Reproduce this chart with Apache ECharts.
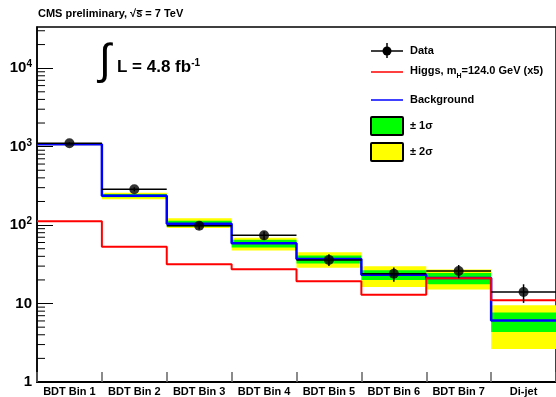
<!DOCTYPE html>
<html>
<head>
<meta charset="utf-8">
<script src="https://cdn.jsdelivr.net/npm/echarts@6/dist/echarts.min.js"></script>
<style>
  html, body { margin: 0; padding: 0; background: #fff; }
  #chart { width: 556px; height: 397px; }
</style>
</head>
<body>
<div id="chart"></div>
<script>
// Bin names along the x axis
const categories = ['BDT Bin 1', 'BDT Bin 2', 'BDT Bin 3', 'BDT Bin 4',
                    'BDT Bin 5', 'BDT Bin 6', 'BDT Bin 7', 'Di-jet'];

// Observed events and their error bars
const dataValues = [1105, 286, 98, 74, 36, 24, 26, 14];
const dataLow    = [1072, 269, 88, 65, 30, 19, 21, 10.2];
const dataHigh   = [1138, 303, 108, 83, 42.6, 28.8, 31, 17.6];

// Expected signal (x5) and background
const higgs      = [112, 52.8, 31.8, 27.4, 19.3, 12.9, 21.0, 11.0];
const background = [1073, 237, 104, 58.5, 37, 23.2, 21.2, 6.1];

// Background uncertainty bands
const sigma1Low  = [1062, 226, 96, 52, 32.4, 19.9, 17.6, 4.34];
const sigma1High = [1085, 249, 113.5, 65, 41, 26.6, 24.6, 7.7];
const sigma2Low  = [1045, 213, 92, 47.5, 28.5, 16.2, 15.1, 2.63];
const sigma2High = [1100, 259, 122, 69, 45.2, 29.9, 27.2, 9.5];

// Y axis range
const yMin = 1;
const yMax = 33500;

const FONT = '"Liberation Sans", Arial, Helvetica, sans-serif';

function steps(vals) {
  const pts = [];
  vals.forEach((v, i) => { pts.push([i, v]); pts.push([i + 1, v]); });
  return pts;
}

function bandSeries(lows, highs, color, z) {
  return {
    type: 'custom',
    xAxisIndex: 0,
    z: z,
    silent: true,
    data: lows.map((lo, i) => [i, lo, highs[i]]),
    encode: { x: 0, y: [1, 2] },
    renderItem: function (params, api) {
      const i = api.value(0);
      const p1 = api.coord([i, api.value(2)]);
      const p2 = api.coord([i + 1, api.value(1)]);
      return {
        type: 'rect',
        shape: { x: p1[0], y: p1[1], width: p2[0] - p1[0], height: p2[1] - p1[1] },
        style: { fill: color }
      };
    }
  };
}

// minor tick values on the log axis (2..9 of every decade)
const minorTickValues = [];
for (let d = 1; d <= 10000; d *= 10) {
  for (let m = 2; m <= 9; m++) {
    if (m * d < yMax) minorTickValues.push(m * d);
  }
}

const chart = echarts.init(document.getElementById('chart'), null, { renderer: 'canvas' });

const option = {
  animation: false,
  backgroundColor: '#ffffff',
  textStyle: { fontFamily: FONT },
  grid: {
    left: 37, top: 27, width: 523, height: 355,
    show: true, borderColor: '#000', borderWidth: 1.5, backgroundColor: 'transparent'
  },
  xAxis: [
    {
      type: 'value', min: 0, max: 8, show: false
    },
    {
      type: 'category',
      data: categories,
      boundaryGap: true,
      position: 'bottom',
      axisLine: { show: true, lineStyle: { color: '#000', width: 2 } },
      axisTick: { show: true, inside: true, length: 10, lineStyle: { color: '#666', width: 1.5 } },
      axisLabel: {
        margin: 4, color: '#000', fontSize: 11, fontWeight: 'bold', fontFamily: FONT,
        interval: 0
      },
      splitLine: { show: false }
    }
  ],
  yAxis: {
    type: 'log',
    logBase: 10,
    min: yMin,
    max: yMax,
    axisLine: { show: true, lineStyle: { color: '#000', width: 1.5 } },
    axisTick: { show: true, inside: true, length: 16, lineStyle: { color: '#000', width: 1 } },
    splitLine: { show: false },
    axisLabel: {
      margin: 5,
      showMaxLabel: false,
      color: '#000',
      fontFamily: FONT,
      formatter: function (v) {
        const e = Math.round(Math.log10(v));
        if (Math.abs(Math.pow(10, e) - v) > 1e-6 * v) return '';
        if (e === 0) return '{b|1}';
        if (e === 1) return '{b|10}';
        return '{b|10}{s|' + e + '}';
      },
      rich: {
        b: { fontSize: 15, fontWeight: 'bold', fontFamily: FONT, color: '#000' },
        s: { fontSize: 10, fontWeight: 'bold', fontFamily: FONT, color: '#000',
             verticalAlign: 'bottom', padding: [0, 0, 7, 0] }
      }
    }
  },
  series: [
    bandSeries(sigma2Low, sigma2High, '#ffff00', 1),
    bandSeries(sigma1Low, sigma1High, '#00ff00', 2),
    {
      name: 'Background', type: 'line', xAxisIndex: 0, z: 3, silent: true,
      data: steps(background), symbol: 'none',
      lineStyle: { color: '#0000ff', width: 2.5 }
    },
    {
      name: 'Higgs', type: 'line', xAxisIndex: 0, z: 4, silent: true,
      data: steps(higgs), symbol: 'none',
      lineStyle: { color: '#ff0000', width: 2 }
    },
    {
      // data error bars: full-bin horizontal bar plus vertical error
      type: 'custom', xAxisIndex: 0, z: 5, silent: true,
      data: dataValues.map((v, i) => [i, v, dataLow[i], dataHigh[i]]),
      encode: { x: 0, y: [1, 2, 3] },
      renderItem: function (params, api) {
        const i = api.value(0);
        const left = api.coord([i, api.value(1)]);
        const right = api.coord([i + 1, api.value(1)]);
        const lo = api.coord([i + 0.5, api.value(2)]);
        const hi = api.coord([i + 0.5, api.value(3)]);
        const st = { stroke: '#000', lineWidth: 1.5 };
        return {
          type: 'group',
          children: [
            { type: 'line', shape: { x1: left[0], y1: left[1], x2: right[0], y2: right[1] }, style: st },
            { type: 'line', shape: { x1: lo[0], y1: lo[1], x2: hi[0], y2: hi[1] }, style: st }
          ]
        };
      }
    },
    {
      name: 'Data', type: 'scatter', xAxisIndex: 0, z: 6, silent: true,
      data: dataValues.map((v, i) => [i + 0.5, v]),
      symbol: 'circle', symbolSize: 10,
      itemStyle: { color: '#000' }
    },
    {
      // minor log ticks on the y axis
      type: 'custom', xAxisIndex: 0, z: 7, silent: true, clip: false,
      data: minorTickValues.map(v => [0, v]),
      encode: { x: 0, y: 1 },
      renderItem: function (params, api) {
        const p = api.coord([0, api.value(1)]);
        return {
          type: 'line',
          shape: { x1: p[0], y1: p[1], x2: p[0] + 8, y2: p[1] },
          style: { stroke: '#000', lineWidth: 1 }
        };
      }
    }
  ],
  graphic: [
    // header
    { type: 'text', left: 38, top: 8,
      style: { text: 'CMS preliminary, √s = 7 TeV', font: 'bold 11px ' + FONT, fill: '#000' } },
    { type: 'line', shape: { x1: 136.5, y1: 10.5, x2: 142.5, y2: 10.5 }, style: { stroke: '#000', lineWidth: 1 } },
    // luminosity
    { type: 'text', left: 99, top: 41,
      style: { text: '∫', font: 'normal 43px ' + FONT, fill: '#000' } },
    { type: 'text', left: 117, top: 58,
      style: {
        text: '{m|L = 4.8 fb}{s|-1}',
        rich: {
          m: { font: 'bold 17px ' + FONT, fill: '#000' },
          s: { font: 'bold 10px ' + FONT, fill: '#000', verticalAlign: 'bottom', padding: [0, 0, 9, 0] }
        }
      } },
    // legend: Data
    { type: 'line', shape: { x1: 371, y1: 51, x2: 403, y2: 51 }, style: { stroke: '#000', lineWidth: 1.5 } },
    { type: 'line', shape: { x1: 387, y1: 43, x2: 387, y2: 58 }, style: { stroke: '#000', lineWidth: 1.5 } },
    { type: 'circle', shape: { cx: 387, cy: 51, r: 4.5 }, style: { fill: '#000' } },
    { type: 'text', left: 410, top: 45,
      style: { text: 'Data', font: 'bold 11px ' + FONT, fill: '#000' } },
    // legend: Higgs
    { type: 'line', shape: { x1: 371, y1: 72, x2: 403, y2: 72 }, style: { stroke: '#ff0000', lineWidth: 1.5 } },
    { type: 'text', left: 410, top: 65,
      style: {
        text: '{t|Higgs, m}{s|H}{t|=124.0 GeV (x5)}',
        rich: {
          t: { font: 'bold 11px ' + FONT, fill: '#000', verticalAlign: 'top' },
          s: { font: 'bold 7px ' + FONT, fill: '#000', verticalAlign: 'top', padding: [8, 0, 0, 0] }
        }
      } },
    // legend: Background
    { type: 'line', shape: { x1: 371, y1: 100, x2: 403, y2: 100 }, style: { stroke: '#0000ff', lineWidth: 1.5 } },
    { type: 'text', left: 410, top: 94,
      style: { text: 'Background', font: 'bold 11px ' + FONT, fill: '#000' } },
    // legend: bands
    { type: 'rect', shape: { x: 371, y: 117, width: 32, height: 18, r: 1 },
      style: { fill: '#00ff00', stroke: '#000', lineWidth: 2 } },
    { type: 'text', left: 410, top: 120,
      style: { text: '± 1σ', font: 'bold 11px ' + FONT, fill: '#000' } },
    { type: 'rect', shape: { x: 371, y: 143, width: 32, height: 18, r: 1 },
      style: { fill: '#ffff00', stroke: '#000', lineWidth: 2 } },
    { type: 'text', left: 410, top: 146,
      style: { text: '± 2σ', font: 'bold 11px ' + FONT, fill: '#000' } }
  ]
};

chart.setOption(option);
</script>
</body>
</html>
